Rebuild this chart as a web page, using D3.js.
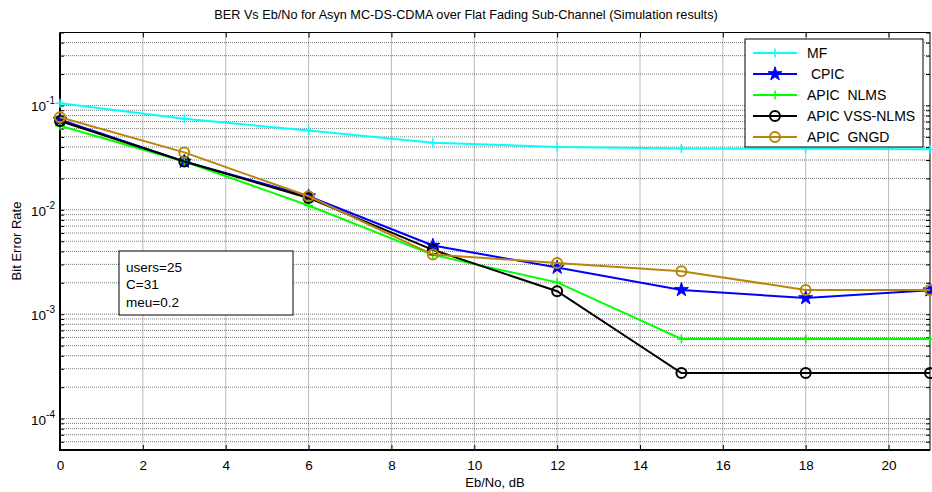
<!DOCTYPE html>
<html>
<head>
<meta charset="utf-8">
<script src="https://cdn.jsdelivr.net/npm/d3@7"></script>
<style>
  body { margin: 0; background: #fff; }
  svg { font-family: "Liberation Sans", Arial, sans-serif; }
</style>
</head>
<body>
<svg id="chart" width="932" height="492"></svg>
<script>
// datos
const ebno = [0, 3, 6, 9, 12, 15, 18, 21];
const mf      = [0.105, 0.0744, 0.0575, 0.044, 0.040, 0.0387, 0.0385, 0.038];
const cpic    = [0.073, 0.0290, 0.0135, 0.00455, 0.0028, 0.00171, 0.00143, 0.0017];
const nlms    = [0.064, 0.0290, 0.0110, 0.0037, 0.00202, 0.00058, 0.00058, 0.00058];
const vssnlms = [0.071, 0.0290, 0.0130, 0.00414, 0.00166, 0.000273, 0.000273, 0.000273];
const gngd    = [0.077, 0.0355, 0.0135, 0.00373, 0.0031, 0.00258, 0.00171, 0.00171];
const xTicks = [0, 2, 4, 6, 8, 10, 12, 14, 16, 18, 20];
const yMajor = [1e-4, 1e-3, 1e-2, 1e-1];
const notes = ["users=25", "C=31", "meu=0.2"];

const series = [
  { name: "MF", values: mf, color: "#00ffff", marker: "plus" },
  { name: " CPIC", values: cpic, color: "#0000ff", marker: "star" },
  { name: "APIC  NLMS", values: nlms, color: "#00ff00", marker: "plus" },
  { name: "APIC VSS-NLMS", values: vssnlms, color: "#000000", marker: "circle" },
  { name: "APIC  GNGD", values: gngd, color: "#b8860b", marker: "circle" },
];

const svg = d3.select("#chart");
const pL = 60, pR = 930, pT = 32.5, pB = 450;

const x = d3.scaleLinear().domain([0, 21]).range([pL, pR]);
const y = d3.scaleLog().domain([5e-5, 0.5]).range([pB, pT]);

// rejilla
const grid = svg.append("g").attr("stroke", "#555").attr("stroke-dasharray", "1,1").attr("stroke-width", 0.8);
grid.selectAll("line.h")
  .data(y.ticks())
  .enter()
  .append("line")
  .attr("x1", pL).attr("x2", pR)
  .attr("y1", d => y(d)).attr("y2", d => y(d));
grid.selectAll("line.v")
  .data(xTicks.slice(1))
  .enter()
  .append("line")
  .attr("x1", d => x(d)).attr("x2", d => x(d))
  .attr("y1", pT).attr("y2", pB);

// ejes (ticks hacia dentro)
svg.append("g")
  .attr("transform", `translate(0,${pB})`)
  .call(d3.axisBottom(x).tickValues(xTicks).tickSize(-5).tickPadding(10).tickFormat(d3.format("d")))
  .call(g => g.select(".domain").remove())
  .call(g => g.selectAll("text").attr("font-size", 13.5).attr("fill", "#000").attr("font-family", "Liberation Sans, Arial"));
svg.append("g")
  .attr("transform", `translate(0,${pT})`)
  .call(d3.axisTop(x).tickValues(xTicks).tickSize(-5).tickFormat(""))
  .call(g => g.select(".domain").remove());

const yTickVals = y.ticks();
svg.append("g")
  .attr("transform", `translate(${pL},0)`)
  .call(d3.axisLeft(y).tickValues(yTickVals).tickSize(-4).tickFormat(""))
  .call(g => g.select(".domain").remove());
svg.append("g")
  .attr("transform", `translate(${pR},0)`)
  .call(d3.axisRight(y).tickValues(yTickVals).tickSize(-4).tickFormat(""))
  .call(g => g.select(".domain").remove());

// etiquetas 10^n
const yl = svg.selectAll("text.ylab")
  .data(yMajor)
  .enter()
  .append("text")
  .attr("x", 55)
  .attr("y", d => y(d) + 6)
  .attr("text-anchor", "end")
  .attr("font-size", 13.5);
yl.append("tspan").text("10");
yl.append("tspan").attr("dy", -7).attr("font-size", 10).text(d => Math.round(Math.log10(d)));

// marco
svg.append("rect")
  .attr("x", pL).attr("y", pT)
  .attr("width", pR - pL).attr("height", pB - pT)
  .attr("fill", "none").attr("stroke", "#000").attr("stroke-width", 1);
svg.append("path")
  .attr("d", `M${pL},${pT}V${pB}H${pR}`)
  .attr("fill", "none").attr("stroke", "#000").attr("stroke-width", 2);

// series
const line = d3.line().x((d, i) => x(ebno[i])).y(d => y(d));
const plot = svg.append("g");

function drawMarker(g, type, color, cx, cy) {
  if (type === "plus") {
    g.append("path")
      .attr("d", `M${cx - 4.5},${cy}H${cx + 4.5}M${cx},${cy - 4.5}V${cy + 4.5}`)
      .attr("stroke", color).attr("stroke-width", 1.5);
  } else if (type === "circle") {
    g.append("circle")
      .attr("cx", cx).attr("cy", cy).attr("r", 5)
      .attr("fill", "none").attr("stroke", color).attr("stroke-width", 2);
  } else {
    g.append("path")
      .attr("d", d3.symbol(d3.symbolStar, 60)())
      .attr("transform", `translate(${cx},${cy})`)
      .attr("fill", color).attr("stroke", color).attr("stroke-width", 1);
  }
}

series.forEach(s => {
  plot.append("path")
    .datum(s.values)
    .attr("d", line)
    .attr("fill", "none")
    .attr("stroke", s.color)
    .attr("stroke-width", 2);
  s.values.forEach((v, i) => drawMarker(plot, s.marker, s.color, x(ebno[i]), y(v)));
});

// leyenda
const lg = svg.append("g");
lg.append("rect")
  .attr("x", 745).attr("y", 39).attr("width", 178).attr("height", 108)
  .attr("fill", "#fff").attr("stroke", "#000").attr("stroke-width", 1);
series.forEach((s, i) => {
  const ly = 53 + i * 21;
  lg.append("line")
    .attr("x1", 753).attr("x2", 797).attr("y1", ly).attr("y2", ly)
    .attr("stroke", s.color).attr("stroke-width", 2);
  drawMarker(lg, s.marker, s.color, 775, ly);
  lg.append("text")
    .attr("x", 807).attr("y", ly + 5)
    .attr("font-size", 14)
    .attr("xml:space", "preserve")
    .style("white-space", "pre")
    .text(s.name);
});

// cuadro de texto
svg.append("rect")
  .attr("x", 119).attr("y", 251).attr("width", 174).attr("height", 64)
  .attr("fill", "#fff").attr("stroke", "#000").attr("stroke-width", 1);
svg.selectAll("text.note")
  .data(notes)
  .enter()
  .append("text")
  .attr("x", 126)
  .attr("y", (d, i) => 271.5 + i * 17.5)
  .attr("font-size", 13.5)
  .text(d => d);

// titulos
svg.append("text")
  .attr("x", 466).attr("y", 19)
  .attr("text-anchor", "middle").attr("font-size", 12.7)
  .text("BER Vs Eb/No for Asyn MC-DS-CDMA over Flat Fading Sub-Channel (Simulation results)");
svg.append("text")
  .attr("x", 495).attr("y", 487)
  .attr("text-anchor", "middle").attr("font-size", 13)
  .text("Eb/No, dB");
svg.append("text")
  .attr("transform", "translate(21,241) rotate(-90)")
  .attr("text-anchor", "middle").attr("font-size", 13)
  .text("Bit Error Rate");
</script>
</body>
</html>
